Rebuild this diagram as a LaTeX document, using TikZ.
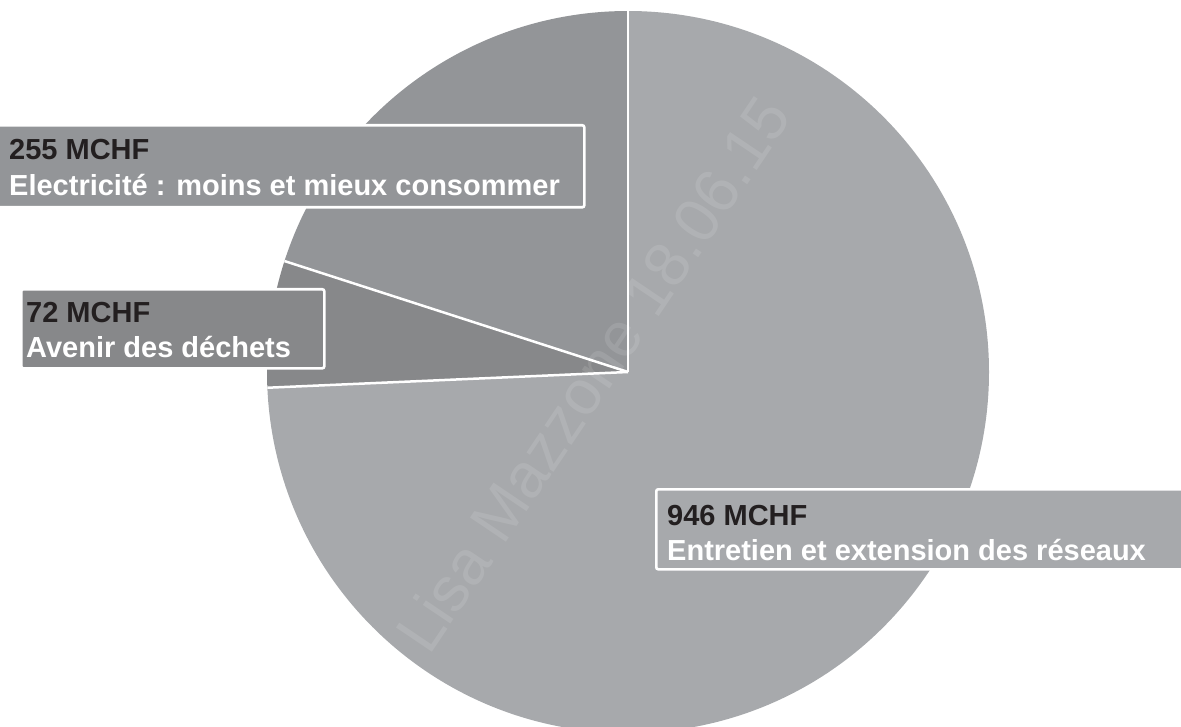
\documentclass[tikz,border=0pt]{standalone}
\usepackage{fontspec}
\setmainfont{Liberation Sans}
\definecolor{cbig}{HTML}{A7A9AC}
\definecolor{cmid}{HTML}{939598}
\definecolor{csmall}{HTML}{87888A}
\definecolor{cdark}{HTML}{231F20}
\tikzset{
  sep/.style={draw=white, line width=2.5pt},
  labelbox/.style={draw=white, line width=2.6pt, rounded corners=2pt, inner sep=0pt, anchor=north west},
  valtext/.style={anchor=base west, inner sep=0pt, text=cdark, font=\fontsize{29}{34}\selectfont\bfseries},
  captext/.style={anchor=base west, inner sep=0pt, text=white, font=\fontsize{29}{34}\selectfont\bfseries},
  wmark/.style={anchor=base west, inner sep=0pt, text=white, text opacity=0.11, font=\fontsize{63}{70}\selectfont}
}
\begin{document}
\begin{tikzpicture}[x=1pt, y=-1pt]
\useasboundingbox (0,0) rectangle (1181,727);
\begin{scope}
\clip (0,0) rectangle (1181,727);
\coordinate (C) at (628,372);
% slices
\fill[cbig] (C) -- ++(-90:361) arc[start angle=-90, end angle=177.5, radius=361] -- cycle;
\fill[csmall] (C) -- ++(177.5:361) arc[start angle=177.5, end angle=197.9, radius=361] -- cycle;
\fill[cmid] (C) -- ++(197.9:361) arc[start angle=197.9, end angle=270, radius=361] -- cycle;
\coordinate (Pa) at ([shift={(177.5:361)}]C);
\coordinate (Pb) at ([shift={(197.9:361)}]C);
\coordinate (Pc) at ([shift={(270:362)}]C);
\draw[sep] (C) -- (Pa);
\draw[sep] (C) -- (Pb);
\draw[sep] (C) -- (Pc);
% watermark
\node[wmark, rotate=56] (wm) at (429,657) {Lisa Mazzone 18.06.15};
% label boxes
\node[labelbox, fill=cmid, minimum width=591pt, minimum height=82pt] (b255) at (-8,124) {};
\node[valtext] (v255) at (9,160) {255 MCHF};
\node[captext] (c255) at (9,196) {Electricité : moins et mieux consommer};
\node[labelbox, fill=csmall, minimum width=303pt, minimum height=79pt] (b72) at (20,288) {};
\node[valtext] (v72) at (26,323) {72 MCHF};
\node[captext] (c72) at (26,358) {Avenir des déchets};
\node[labelbox, fill=cbig, minimum width=540pt, minimum height=80pt] (b946) at (655,488) {};
\node[valtext] (v946) at (667,525) {946 MCHF};
\node[captext] (c946) at (667,560) {Entretien et extension des réseaux};
\end{scope}
\end{tikzpicture}
\end{document}
